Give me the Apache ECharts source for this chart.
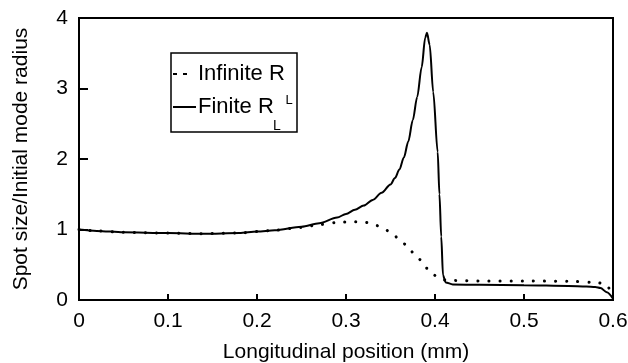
<!DOCTYPE html>
<html>
<head>
<meta charset="utf-8">
<script src="https://cdn.jsdelivr.net/npm/echarts@6/dist/echarts.min.js"></script>
<style>html,body{margin:0;padding:0;background:#fff;}#c{width:628px;height:363px;}</style>
</head>
<body>
<div id="c"></div>
<script>
// Finite R_L (solid)
const finiteX = [0, 0.02, 0.05, 0.1, 0.14, 0.18, 0.2, 0.22, 0.25, 0.27, 0.29, 0.30, 0.31, 0.32, 0.33, 0.34, 0.35, 0.355, 0.36, 0.365, 0.37, 0.375, 0.38, 0.385, 0.389, 0.391, 0.394, 0.398, 0.403, 0.405, 0.407, 0.409, 0.412, 0.42, 0.45, 0.5, 0.55, 0.57, 0.58, 0.586, 0.593, 0.6];
const finiteY = [1.0, 0.98, 0.96, 0.95, 0.94, 0.95, 0.97, 0.99, 1.04, 1.09, 1.17, 1.22, 1.28, 1.34, 1.42, 1.52, 1.64, 1.73, 1.85, 2.02, 2.25, 2.55, 2.88, 3.30, 3.72, 3.79, 3.62, 2.95, 2.1, 1.5, 0.9, 0.35, 0.25, 0.22, 0.215, 0.21, 0.2, 0.19, 0.185, 0.17, 0.11, 0.02];
// Infinite R_L (dotted)
const infiniteX = [0, 0.02, 0.05, 0.1, 0.14, 0.18, 0.2, 0.22, 0.25, 0.27, 0.29, 0.307, 0.319, 0.33, 0.344, 0.353, 0.364, 0.372, 0.381, 0.391, 0.398, 0.405, 0.413, 0.45, 0.5, 0.55, 0.58, 0.591, 0.6];
const infiniteY = [1.0, 0.98, 0.96, 0.95, 0.94, 0.95, 0.97, 0.99, 1.03, 1.07, 1.1, 1.11, 1.11, 1.08, 1.0, 0.92, 0.81, 0.70, 0.59, 0.45, 0.36, 0.30, 0.28, 0.27, 0.27, 0.265, 0.25, 0.23, 0.06];

const xTicks = [0, 0.1, 0.2, 0.3, 0.4, 0.5, 0.6];
const yTicks = [0, 1, 2, 3, 4];
const xTitle = 'Longitudinal position (mm)';
const yTitle = 'Spot size/Initial mode radius';
const legendNames = ['Infinite R', 'Finite R'];

const FONT = '"Liberation Sans", Arial, Helvetica, sans-serif';
const chart = echarts.init(document.getElementById('c'), null, {renderer: 'canvas'});

const zip = (xs, ys) => xs.map((x, i) => [x, ys[i]]);

chart.setOption({
  animation: false,
  backgroundColor: '#fff',
  grid: {left: 79, right: 15, top: 18, bottom: 63, containLabel: false, outerBoundsMode: 'none',
    show: true, borderColor: '#000', borderWidth: 2, backgroundColor: 'transparent'},
  xAxis: {
    type: 'value', min: xTicks[0], max: xTicks[xTicks.length - 1], interval: 0.1,
    name: xTitle, nameLocation: 'middle', nameGap: 42,
    nameTextStyle: {fontFamily: FONT, fontSize: 21, color: '#000'},
    axisLine: {show: true, lineStyle: {color: '#000', width: 2}},
    axisTick: {show: true, inside: true, length: 6, lineStyle: {color: '#000', width: 2}},
    axisLabel: {fontFamily: FONT, fontSize: 21, color: '#000', margin: 11,
      formatter: v => { const t = xTicks.find(k => Math.abs(k - v) < 1e-9); return t === undefined ? '' : String(t); }},
    splitLine: {show: false}
  },
  yAxis: {
    type: 'value', min: yTicks[0], max: yTicks[yTicks.length - 1], interval: 1,
    name: yTitle, nameLocation: 'middle', nameGap: 47,
    nameTextStyle: {fontFamily: FONT, fontSize: 21, color: '#000'},
    axisLine: {show: true, lineStyle: {color: '#000', width: 2}},
    axisTick: {show: true, inside: true, length: 9, lineStyle: {color: '#000', width: 2}},
    axisLabel: {fontFamily: FONT, fontSize: 21, color: '#000', margin: 11},
    splitLine: {show: false}
  },
  series: [
    {
      name: legendNames[0], type: 'line', data: zip(infiniteX, infiniteY), showSymbol: false, smooth: 0.3, smoothMonotone: 'x',
      lineStyle: {color: '#000', width: 3, type: [0.1, 11], cap: 'round'}, z: 2
    },
    {
      name: legendNames[1], type: 'line', data: zip(finiteX, finiteY), showSymbol: false, smooth: 0.3, smoothMonotone: 'x',
      lineStyle: {color: '#000', width: 2}, z: 3
    }
  ],
  graphic: [
    {type: 'rect', shape: {x: 171, y: 53, width: 126, height: 79}, style: {fill: '#fff', stroke: '#000', lineWidth: 1.5}, z: 10},
    {type: 'line', shape: {x1: 173, y1: 74, x2: 193, y2: 74}, style: {stroke: '#000', lineWidth: 2, lineDash: [4, 6]}, z: 11},
    {type: 'line', shape: {x1: 173, y1: 107, x2: 196, y2: 107}, style: {stroke: '#000', lineWidth: 2}, z: 11},
    {type: 'text', x: 198, y: 74, style: {text: legendNames[0], font: '22px ' + FONT, fill: '#000', verticalAlign: 'middle', align: 'left'}, z: 11},
    {type: 'text', x: 198, y: 107, style: {text: legendNames[1], font: '22px ' + FONT, fill: '#000', verticalAlign: 'middle', align: 'left'}, z: 11},
    {type: 'text', x: 289, y: 100, style: {text: 'L', font: '13px ' + FONT, fill: '#000', verticalAlign: 'middle', align: 'center'}, z: 11},
    {type: 'text', x: 277, y: 126, style: {text: 'L', font: '14px ' + FONT, fill: '#000', verticalAlign: 'middle', align: 'center'}, z: 11}
  ]
});
</script>
</body>
</html>
